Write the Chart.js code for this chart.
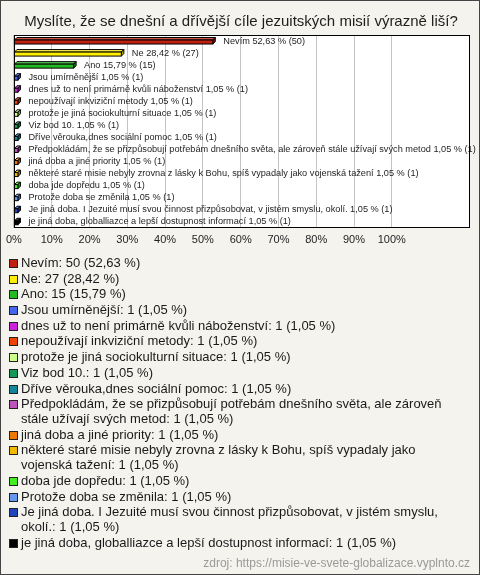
<!DOCTYPE html>
<html lang="cs">
<head>
<meta charset="UTF-8">
<title>Myslíte, že se dnešní a dřívější cíle jezuitských misií výrazně liší?</title>
<script src="https://cdn.jsdelivr.net/npm/chart.js"></script>
<style>
    html, body {
        margin: 0;
        padding: 0;
    }
    #frame {
        position: relative;
        width: 480px;
        height: 575px;
        box-sizing: border-box;
        border: 1px solid #444;
        background: #f4f3ee;
        font-family: "Liberation Sans", Arial, sans-serif;
        overflow: hidden;
    }
    #chartCanvas {
        position: absolute;
        left: -1px;
        top: -1px;
    }
    #legend {
        position: absolute;
        left: 8px;
        top: 255px;
        width: 456px;
        margin: 0;
        padding: 0;
        list-style: none;
        font-size: 13px;
        line-height: 14.8px;
        color: #1a1a1a;
    }
    #legend li {
        display: flex;
        align-items: flex-start;
        margin-bottom: 0.9px;
    }
    #legend .box {
        flex: none;
        width: 7px;
        height: 7px;
        border: 1px solid #222;
        margin: 3px 3px 0 0;
    }
    #source {
        position: absolute;
        right: 9px;
        top: 555px;
        font-size: 12px;
        line-height: 14px;
        color: #9a9a9a;
    }
</style>
</head>
<body>
<div id="frame">
    <canvas id="chartCanvas" width="480" height="257"></canvas>
    <ul id="legend"></ul>
    <div id="source">zdroj: https://misie-ve-svete-globalizace.vyplnto.cz</div>
</div>

<script>
    // data
    const chartTitle = 'Myslíte, že se dnešní a dřívější cíle jezuitských misií výrazně liší?';
    const answers = [
        'Nevím',
        'Ne',
        'Ano',
        'Jsou umírněnější',
        'dnes už to není primárně kvůli náboženství',
        'nepoužívají inkviziční metody',
        'protože je jiná sociokulturní situace',
        'Viz bod 10.',
        'Dříve věrouka,dnes sociální pomoc',
        'Předpokládám, že se přizpůsobují potřebám dnešního světa, ale zároveň stále užívají svých metod',
        'jiná doba a jiné priority',
        'některé staré misie nebyly zrovna z lásky k Bohu, spíš vypadaly jako vojenská tažení',
        'doba jde dopředu',
        'Protože doba se změnila',
        'Je jiná doba. I Jezuité musí svou činnost přizpůsobovat, v jistém smyslu, okolí.',
        'je jiná doba, globalliazce a lepší dostupnost informací'
    ];
    const counts = [50, 27, 15, 1, 1, 1, 1, 1, 1, 1, 1, 1, 1, 1, 1, 1];
    const percents = [52.63, 28.42, 15.79, 1.05, 1.05, 1.05, 1.05, 1.05, 1.05, 1.05, 1.05, 1.05, 1.05, 1.05, 1.05, 1.05];
    const colors = [
        '#c0200f', '#ffee00', '#22bb22', '#4466ee',
        '#cc22dd', '#ee4400', '#ccff88', '#119955',
        '#118899', '#bb55bb', '#ee7700', '#eebb00',
        '#44ee22', '#6699ee', '#2244bb', '#000000'
    ];
    const tickValues = [0, 10, 20, 30, 40, 50, 60, 70, 80, 90, 100];

    function fmt(p) {
        return p.toFixed(2).replace('.', ',');
    }

    function shade(hex, f) {
        let r = parseInt(hex.substr(1, 2), 16);
        let g = parseInt(hex.substr(3, 2), 16);
        let b = parseInt(hex.substr(5, 2), 16);
        if (f > 0) {
            r = r + (255 - r) * f; g = g + (255 - g) * f; b = b + (255 - b) * f;
        } else {
            r = r * (1 + f); g = g * (1 + f); b = b * (1 + f);
        }
        return 'rgb(' + Math.round(r) + ',' + Math.round(g) + ',' + Math.round(b) + ')';
    }

    // bílé pozadí plochy grafu a rámeček
    const plotBox = {
        id: 'plotBox',
        beforeDraw(chart) {
            const a = chart.chartArea;
            const ctx = chart.ctx;
            ctx.save();
            ctx.fillStyle = '#ffffff';
            ctx.fillRect(a.left, a.top, a.right - a.left, a.bottom - a.top);
            ctx.restore();
        },
        afterDraw(chart) {
            const a = chart.chartArea;
            const ctx = chart.ctx;
            ctx.save();
            ctx.strokeStyle = '#000';
            ctx.lineWidth = 1;
            ctx.strokeRect(Math.round(a.left) + 0.5, Math.round(a.top) + 0.5,
                Math.round(a.right - a.left) - 1, Math.round(a.bottom - a.top) - 1);
            ctx.restore();
        }
    };

    // 3D vzhled sloupců + popisky vedle nich
    const bars3d = {
        id: 'bars3d',
        afterDatasetsDraw(chart) {
            const ctx = chart.ctx;
            const meta = chart.getDatasetMeta(0);
            const d = 2.5;
            ctx.save();
            ctx.lineWidth = 1;
            ctx.strokeStyle = '#000';
            meta.data.forEach((bar, i) => {
                const p = bar.getProps(['x', 'y', 'base', 'height'], true);
                const top = p.y - p.height / 2 + 1;
                const bot = p.y + p.height / 2 + 1;
                const x0 = p.base;
                const x1 = p.x;
                // horní stěna
                ctx.beginPath();
                ctx.moveTo(x0, top);
                ctx.lineTo(x0 + d, top - d);
                ctx.lineTo(x1 + d, top - d);
                ctx.lineTo(x1, top);
                ctx.closePath();
                ctx.fillStyle = shade(colors[i], 0.25);
                ctx.fill();
                ctx.stroke();
                // boční stěna
                ctx.beginPath();
                ctx.moveTo(x1, top);
                ctx.lineTo(x1 + d, top - d);
                ctx.lineTo(x1 + d, bot - d);
                ctx.lineTo(x1, bot);
                ctx.closePath();
                ctx.fillStyle = shade(colors[i], -0.3);
                ctx.fill();
                ctx.stroke();
                // přední stěna
                ctx.fillStyle = colors[i];
                ctx.fillRect(x0, top, x1 - x0, bot - top);
                ctx.strokeRect(x0, top, x1 - x0, bot - top);

                // popisek
                ctx.fillStyle = '#1e1e1e';
                ctx.font = '9.2px "Liberation Sans", Arial, sans-serif';
                ctx.textBaseline = 'middle';
                ctx.textAlign = 'left';
                ctx.fillText(answers[i] + ' ' + fmt(percents[i]) + ' % (' + counts[i] + ')',
                    Math.max(x1 + d, x0 + 5) + 8, p.y);
            });
            ctx.restore();
        }
    };

    let chart;

    function initializeChart() {
        const ctx = document.getElementById('chartCanvas').getContext('2d');
        chart = new Chart(ctx, {
            type: 'bar',
            data: {
                labels: answers,
                datasets: [{
                    data: percents,
                    backgroundColor: 'rgba(0,0,0,0)',
                    borderWidth: 0,
                    barThickness: 4
                }]
            },
            options: {
                indexAxis: 'y',
                responsive: false,
                animation: false,
                layout: {
                    padding: { left: 12, right: 10, top: 0, bottom: 4 }
                },
                scales: {
                    x: {
                        min: 0,
                        max: 120.7,
                        afterBuildTicks(scale) {
                            scale.ticks = tickValues.map(v => ({ value: v }));
                        },
                        grid: {
                            color: '#c4c4c4',
                            drawTicks: false
                        },
                        border: { display: false },
                        ticks: {
                            padding: 6,
                            color: '#1e1e1e',
                            font: { family: '"Liberation Sans", Arial, sans-serif', size: 11 },
                            callback: v => v + '%'
                        }
                    },
                    y: {
                        display: false
                    }
                },
                plugins: {
                    legend: { display: false },
                    tooltip: { enabled: false },
                    title: {
                        display: true,
                        text: chartTitle,
                        color: '#1e1e1e',
                        font: { family: '"Liberation Sans", Arial, sans-serif', size: 15, weight: 'normal' },
                        padding: { top: 13, bottom: 4 }
                    }
                }
            },
            plugins: [plotBox, bars3d]
        });
    }

    function buildLegend() {
        const list = document.getElementById('legend');
        list.innerHTML = '';
        answers.forEach((a, i) => {
            const li = document.createElement('li');
            const box = document.createElement('span');
            box.className = 'box';
            box.style.background = colors[i];
            const txt = document.createElement('span');
            txt.textContent = a + ': ' + counts[i] + ' (' + fmt(percents[i]) + ' %)';
            li.appendChild(box);
            li.appendChild(txt);
            list.appendChild(li);
        });
    }

    initializeChart();
    buildLegend();
</script>
</body>
</html>
